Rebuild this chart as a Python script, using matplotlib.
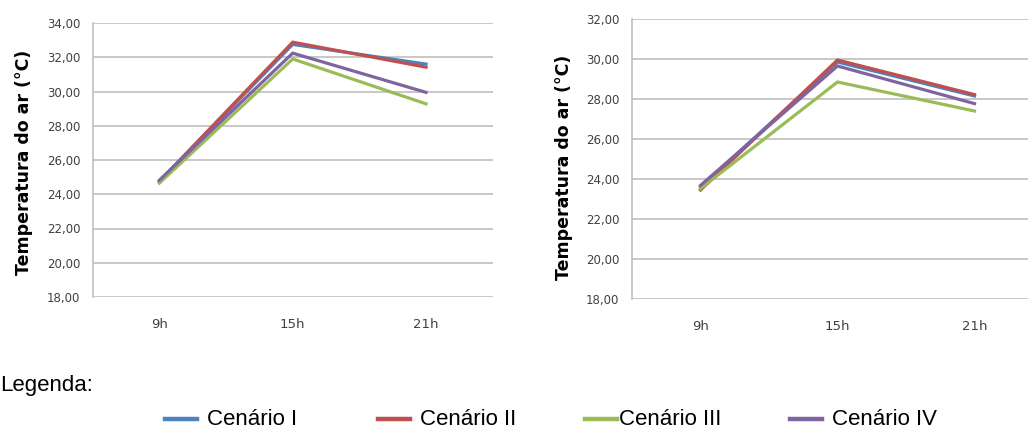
import matplotlib
matplotlib.use("Agg")
import matplotlib.pyplot as plt
from matplotlib.ticker import FuncFormatter, MultipleLocator
from matplotlib.lines import Line2D

# Data
hours = ["9h", "15h", "21h"]
scenarios = ["Cenário I", "Cenário II", "Cenário III", "Cenário IV"]
colors = ["#4F81BD", "#C0504D", "#9BBB59", "#8064A2"]

left_vals = {
    "Cenário I": [24.75, 32.75, 31.60],
    "Cenário II": [24.75, 32.88, 31.42],
    "Cenário III": [24.65, 31.90, 29.28],
    "Cenário IV": [24.82, 32.24, 29.95],
}
right_vals = {
    "Cenário I": [23.60, 29.85, 28.15],
    "Cenário II": [23.45, 29.95, 28.22],
    "Cenário III": [23.52, 28.85, 27.40],
    "Cenário IV": [23.68, 29.65, 27.77],
}

W, H = 1028, 428
fig = plt.figure(figsize=(W / 100, H / 100), dpi=100)

grid_c = "#BFBFBF"
tick_c = "#404040"
comma = FuncFormatter(lambda v, p: f"{v:.2f}".replace(".", ","))


def setup(ax, vals, ymax, lab_x, lab_y):
    x = list(range(len(hours)))
    for name, c in zip(scenarios, colors):
        ax.plot(x, vals[name], color=c, lw=2.3, solid_joinstyle="miter", zorder=3)
    ax.set_xlim(-0.5, 2.5)
    ax.set_ylim(18, ymax)
    ax.yaxis.set_major_locator(MultipleLocator(2))
    ax.yaxis.set_major_formatter(comma)
    ax.set_xticks(x)
    ax.set_xticklabels(hours)
    ax.grid(axis="y", color=grid_c, lw=1.2)
    ax.set_axisbelow(True)
    for s in ["top", "right", "bottom"]:
        ax.spines[s].set_visible(False)
    ax.spines["left"].set_color(grid_c)
    ax.spines["left"].set_linewidth(1.2)
    ax.tick_params(axis="y", length=0, pad=9, labelsize=8.5, labelcolor=tick_c)
    ax.tick_params(axis="x", length=0, pad=15, labelsize=9.5, labelcolor=tick_c)
    ax.set_ylabel("Temperatura do ar (°C)", fontsize=12.5, fontweight="bold", color="black")
    ax.yaxis.set_label_coords(lab_x, lab_y)


ax1 = fig.add_axes([92.7 / W, 1 - 297 / H, 400 / W, 274 / H])
setup(ax1, left_vals, 34, -0.15, 0.49)

ax2 = fig.add_axes([632 / W, 1 - 299 / H, 411 / W, 280 / H])
setup(ax2, right_vals, 32, -0.144, 0.47)

# Legend
fig.text(0 / W, 1 - 391 / H, "Legenda:", fontsize=16, family="Liberation Sans",
         ha="left", va="baseline")
leg_x = [165, 378, 585, 790]
for (lx, name, c) in zip(leg_x, scenarios, colors):
    fig.add_artist(Line2D([lx / W, (lx + 32) / W], [1 - 419 / H] * 2, color=c, lw=3.2))
    fig.text((lx + 42) / W if name != "Cenário III" else (lx + 34) / W, 1 - 425 / H, name,
             fontsize=16, family="Liberation Sans", ha="left", va="baseline")

fig.savefig("out.png", dpi=100, facecolor="white")
